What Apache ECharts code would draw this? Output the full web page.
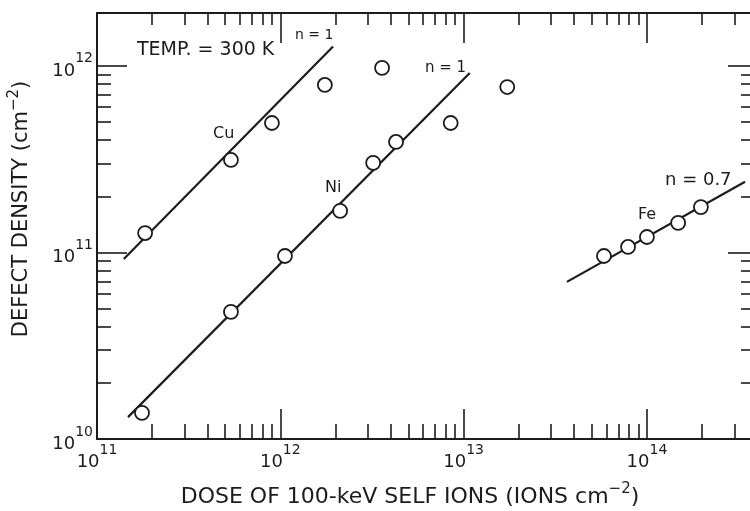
<!DOCTYPE html>
<html>
<head>
<meta charset="utf-8">
<script src="https://cdn.jsdelivr.net/npm/echarts@6/dist/echarts.min.js"></script>
<style>
  html, body { margin: 0; padding: 0; background: #fff; }
  #chart { width: 750px; height: 511px; }
</style>
</head>
<body>
<div id="chart"></div>
<script>
// Measured defect densities (cm^-2) against dose of 100-keV self ions (ions cm^-2)
const doseCu = [1.83e11, 5.38e11, 9.0e11, 1.75e12, 3.59e12];
const densCu = [1.27e11, 3.13e11, 4.94e11, 7.9e11, 9.75e11];

const doseNi = [1.76e11, 5.38e11, 1.06e12, 2.12e12, 3.21e12, 4.28e12, 8.5e12, 1.73e13];
const densNi = [1.38e10, 4.8e10, 9.57e10, 1.67e11, 3.02e11, 3.91e11, 4.94e11, 7.7e11];

const doseFe = [5.83e13, 7.89e13, 1.0e14, 1.48e14, 1.97e14];
const densFe = [9.57e10, 1.07e11, 1.21e11, 1.44e11, 1.75e11];

// Power-law fits (end points of each straight line on log-log scale)
const fitCuDose = [1.40e11, 1.94e12];
const fitCuDens = [9.23e10, 1.27e12];
const fitNiDose = [1.476e11, 1.08e13];
const fitNiDens = [1.31e10, 9.16e11];
const fitFeDose = [3.66e13, 3.43e14];
const fitFeDens = [6.95e10, 2.39e11];

// Axis ranges and ticks
const doseRange = [1e11, 3.65e14];
const densRange = [1e10, 1.92e12];
const doseDecades = [1e11, 1e12, 1e13, 1e14];
const densDecades = [1e10, 1e11, 1e12];
const minorSteps = [2, 3, 4, 5, 6, 7, 8, 9];

const INK = '#1c1c1c';
const FONT = 'DejaVu Sans';

function minorTicks(decades, range) {
  const out = [];
  decades.forEach(d => minorSteps.forEach(m => {
    const v = d * m;
    if (v > range[0] && v < range[1]) out.push(v);
  }));
  return out;
}

function pairs(xs, ys) { return xs.map((x, i) => [x, ys[i]]); }

const powerLabel = v => '{b|10}{e|' + Math.round(Math.log10(v)) + '}';
const labelRich = {
  b: { fontFamily: FONT, fontSize: 18, color: INK, verticalAlign: 'bottom', lineHeight: 20 },
  e: { fontFamily: FONT, fontSize: 14, color: INK, verticalAlign: 'top', lineHeight: 28 }
};

function axis(kind, pos, range, decades, major, showLine, showLabel, tickLen) {
  const a = {
    type: 'log', logBase: 10, min: range[0], max: range[1],
    position: pos,
    splitLine: { show: false },
    axisLine: { show: showLine, onZero: false, lineStyle: { color: INK, width: 2 } },
    axisTick: {
      show: true, inside: true, length: tickLen,
      lineStyle: { color: INK, width: 1.6 },
      customValues: major ? decades : minorTicks(decades, range)
    },
    axisLabel: { show: false }
  };
  if (showLabel) {
    a.axisLabel = {
      show: true, customValues: decades, formatter: powerLabel, rich: labelRich,
      margin: 4
    };
  }
  return a;
}

const chart = echarts.init(document.getElementById('chart'), null, { renderer: 'canvas' });

const circleStyle = { color: '#ffffff', opacity: 1, borderColor: INK, borderWidth: 1.8 };
const fitStyle = { color: INK, width: 2.2 };

function note(x, y, text, size) {
  return { type: 'text', x: x, y: y, style: { text: text, font: size + 'px ' + FONT, fill: INK, textVerticalAlign: 'middle' } };
}

const supRich = { s: { fontFamily: FONT, fontSize: 15, fill: INK, verticalAlign: 'top', lineHeight: 30 } };

chart.setOption({
  backgroundColor: '#fff',
  animation: false,
  grid: { left: 97, right: 0, top: 13, bottom: 72 },
  xAxis: [
    axis('x', 'bottom', doseRange, doseDecades, true, true, true, 30),
    axis('x', 'bottom', doseRange, doseDecades, false, false, false, 15),
    axis('x', 'top', doseRange, doseDecades, true, true, false, 30),
    axis('x', 'top', doseRange, doseDecades, false, false, false, 12)
  ],
  yAxis: [
    axis('y', 'left', densRange, densDecades, true, true, true, 30),
    axis('y', 'left', densRange, densDecades, false, false, false, 14),
    axis('y', 'right', densRange, densDecades, true, false, false, 22),
    axis('y', 'right', densRange, densDecades, false, false, false, 9)
  ],
  series: [
    { name: 'Cu fit', type: 'line', data: pairs(fitCuDose, fitCuDens), showSymbol: false, lineStyle: fitStyle, z: 2 },
    { name: 'Ni fit', type: 'line', data: pairs(fitNiDose, fitNiDens), showSymbol: false, lineStyle: fitStyle, z: 2 },
    { name: 'Fe fit', type: 'line', data: pairs(fitFeDose, fitFeDens), showSymbol: false, lineStyle: fitStyle, z: 2 },
    { name: 'Cu', type: 'scatter', data: pairs(doseCu, densCu), symbol: 'circle', symbolSize: 14, itemStyle: circleStyle, z: 5 },
    { name: 'Ni', type: 'scatter', data: pairs(doseNi, densNi), symbol: 'circle', symbolSize: 14, itemStyle: circleStyle, z: 5 },
    { name: 'Fe', type: 'scatter', data: pairs(doseFe, densFe), symbol: 'circle', symbolSize: 14, itemStyle: circleStyle, z: 5 }
  ],
  graphic: [
    note(137, 50, 'TEMP. = 300 K', 19),
    note(295, 35, 'n = 1', 14),
    note(213, 134, 'Cu', 16),
    note(325, 188, 'Ni', 16),
    note(425, 68, 'n = 1', 15),
    note(638, 215, 'Fe', 16),
    note(665, 180, 'n = 0.7', 18),
    {
      type: 'text', x: 410, y: 497,
      style: {
        text: 'DOSE OF 100-keV SELF IONS (IONS cm{s|−2})',
        font: '22px ' + FONT, fill: INK, textAlign: 'center', textVerticalAlign: 'middle',
        rich: supRich
      }
    },
    {
      type: 'text', x: 22, y: 209, rotation: Math.PI / 2,
      style: {
        text: 'DEFECT DENSITY (cm{s|−2})',
        font: '21px ' + FONT, fill: INK, textAlign: 'center', textVerticalAlign: 'middle',
        rich: supRich
      }
    }
  ]
});
</script>
</body>
</html>
